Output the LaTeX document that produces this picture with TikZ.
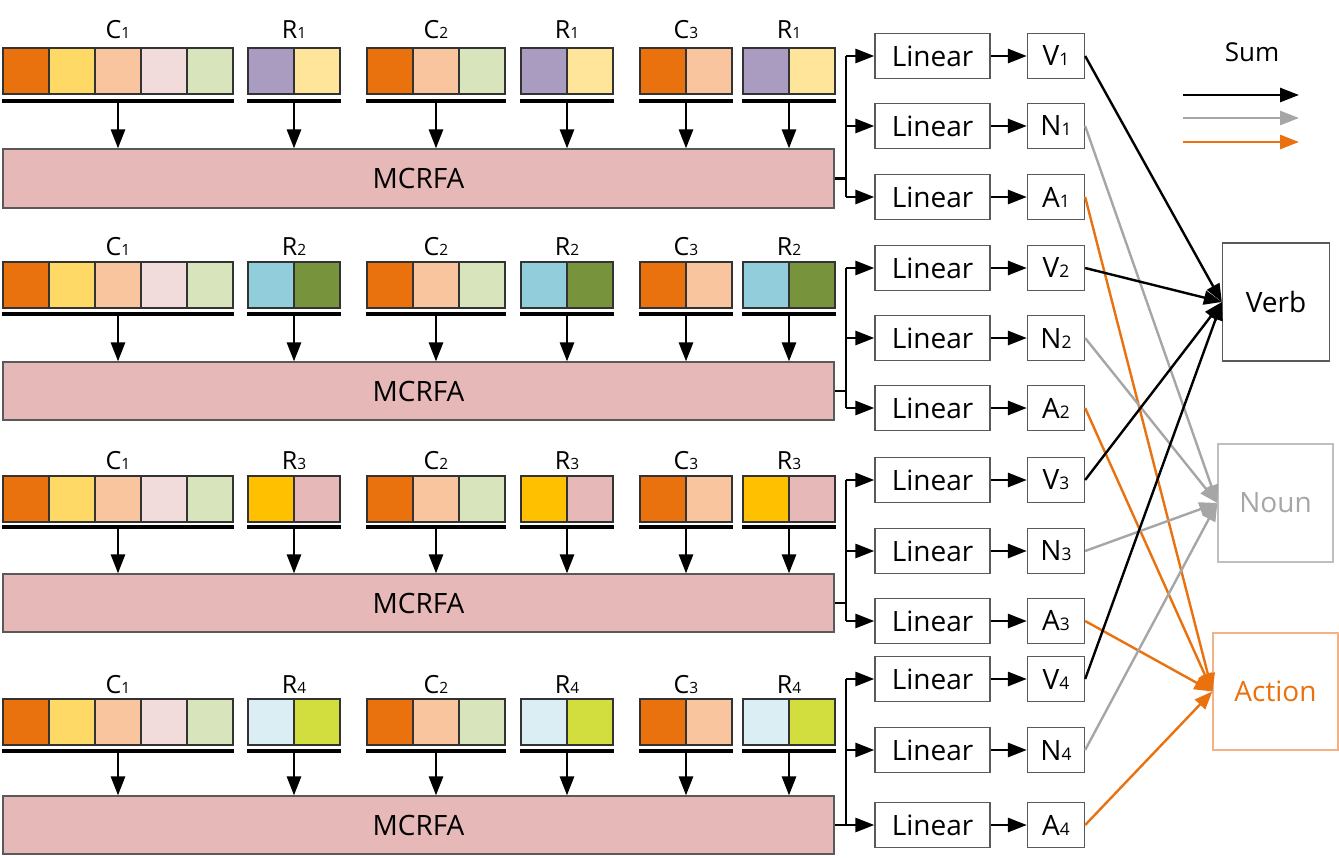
\documentclass[tikz,border=0pt]{standalone}
\usepackage{fontspec}
\usepackage{graphicx}
\setmainfont{Open Sans}
\usetikzlibrary{arrows.meta}
\definecolor{cor}{RGB}{233,113,14}
\definecolor{cyel}{RGB}{255,217,102}
\definecolor{cpeach}{RGB}{248,197,158}
\definecolor{cpink}{RGB}{242,220,219}
\definecolor{cgreen}{RGB}{216,228,188}
\definecolor{cpurple}{RGB}{170,155,192}
\definecolor{clyel}{RGB}{255,229,153}
\definecolor{cblue}{RGB}{146,205,220}
\definecolor{colive}{RGB}{119,147,60}
\definecolor{cgold}{RGB}{255,192,0}
\definecolor{cmc}{RGB}{230,184,183}
\definecolor{cvlb}{RGB}{218,238,243}
\definecolor{cyg}{RGB}{210,222,62}
\definecolor{cgray}{RGB}{166,166,166}
\definecolor{boxgray}{RGB}{89,89,89}
\definecolor{nounborder}{RGB}{191,191,191}
\definecolor{actborder}{RGB}{244,177,131}
\newcommand\fs[1]{\fontsize{#1}{#1}\selectfont}
\newcommand\sbs[1]{\scalebox{0.62}{#1}}
\tikzset{
  cell/.style={draw=black!80, line width=1.1pt, minimum width=46, minimum height=46, inner sep=0},
  ulline/.style={line width=3.4pt},
  lbl/.style={font=\fs{25}, inner sep=0},
  mcrfa/.style={draw=boxgray, line width=1.2pt, fill=cmc, minimum width=831, inner sep=0, font=\fs{28}},
  box/.style={draw=boxgray, line width=1.3pt, fill=white, inner sep=0, font=\fs{28}},
  linbox/.style={box, minimum width=115, minimum height=45},
  vbox/.style={box, minimum width=57, minimum height=45},
  darr/.style={line width=2.8pt, -{Triangle[length=19pt,width=14pt]}},
  bline/.style={line width=2.8pt},
  oarr/.style={line width=2.4pt, -{Triangle[length=18pt,width=14pt]}},
}
\newcommand\grp[4]{%
  \foreach \cc [count=\k] in {#3} {
    \node[cell, fill=\cc] (#1-\k) at ({#2+(\k-0.5)*46}, \yt+23) {};
    \xdef\nk{\k}
  }
  \coordinate (#1-ul) at ({#2+\nk*23}, \ul);
  \draw[ulline] ({#2-1}, \ul) -- ({#2+\nk*46+1}, \ul);
  \node[lbl, anchor=base] (#1-lab) at ({#2+\nk*23}, \lb) {#4};
  \draw[darr] (#1-ul) -- (#1-ul |- m\r.north);
}
\begin{document}
\begin{tikzpicture}[x=1pt,y=-1pt]
\useasboundingbox (0,0) rectangle (1339,857);
\foreach \r/\yt/\lb/\ul/\mt/\mb/\ya/\yb/\yc/\mc/\ca/\cb in {
 1/48/38/101/149/208/56/126/197/179/cpurple/clyel,
 2/262/255/314/362/420/268/338/408/391/cblue/colive,
 3/476/469/527/574/632/480/551/621/603/cgold/cmc,
 4/699/693/751/796/854/679/750/825/825/cvlb/cyg}{
  \node[mcrfa, minimum height={\mb-\mt}] (m\r) at (418.5, {(\mt+\mb)/2}) {MCRFA};
  \grp{g\r a}{3}{cor,cyel,cpeach,cpink,cgreen}{C\sbs{1}}
  \grp{g\r b}{248}{\ca,\cb}{R\sbs{\r}}
  \grp{g\r c}{367}{cor,cpeach,cgreen}{C\sbs{2}}
  \grp{g\r d}{521}{\ca,\cb}{R\sbs{\r}}
  \grp{g\r e}{640}{cor,cpeach}{C\sbs{3}}
  \grp{g\r f}{743}{\ca,\cb}{R\sbs{\r}}
  \node[linbox] (l\r-1) at (932.5,\ya) {Linear};
  \node[linbox] (l\r-2) at (932.5,\yb) {Linear};
  \node[linbox] (l\r-3) at (932.5,\yc) {Linear};
  \node[vbox] (v\r) at (1056,\ya) {V\sbs{\r}};
  \node[vbox] (n\r) at (1056,\yb) {N\sbs{\r}};
  \node[vbox] (a\r) at (1056,\yc) {A\sbs{\r}};
  \coordinate (br\r) at (846,\mc);
  \draw[bline] (m\r.east) -- (m\r.east -| br\r);
  \draw[bline] (br\r |- l\r-1.west) -- (br\r |- l\r-3.west);
  \draw[darr] (br\r |- l\r-1.west) -- (l\r-1.west);
  \draw[darr] (br\r |- l\r-2.west) -- (l\r-2.west);
  \draw[darr] (br\r |- l\r-3.west) -- (l\r-3.west);
  \draw[darr] (l\r-1) -- (v\r);
  \draw[darr] (l\r-2) -- (n\r);
  \draw[darr] (l\r-3) -- (a\r);
}
\node[draw=boxgray, line width=1.3pt, minimum width=107, minimum height=118, font=\fs{28}] (verb) at (1276,302) {Verb};
\node[draw=nounborder, line width=1.3pt, minimum width=115, minimum height=118, font=\fs{28}, text=cgray] (noun) at (1275.5,503) {Noun};
\node[draw=actborder, line width=1.3pt, minimum width=125, minimum height=117, font=\fs{28}, text=cor] (action) at (1275.5,691.5) {Action};
\foreach \r in {1,2,3,4}{
  \draw[oarr, black] (v\r.east) -- (verb.west);
  \draw[oarr, cgray] (n\r.east) -- (noun.west);
  \draw[oarr, cor] (a\r.east) -- (action.west);
}
\node[font=\fs{26}, inner sep=0] (sum) at (1252,52) {Sum};
\coordinate (k1s) at (1183,95); \coordinate (k1e) at (1299,95);
\coordinate (k2s) at (1183,118); \coordinate (k2e) at (1299,118);
\coordinate (k3s) at (1183,142); \coordinate (k3e) at (1299,142);
\draw[darr, black] (k1s) -- (k1e);
\draw[darr, cgray] (k2s) -- (k2e);
\draw[darr, cor] (k3s) -- (k3e);
\end{tikzpicture}
\end{document}
